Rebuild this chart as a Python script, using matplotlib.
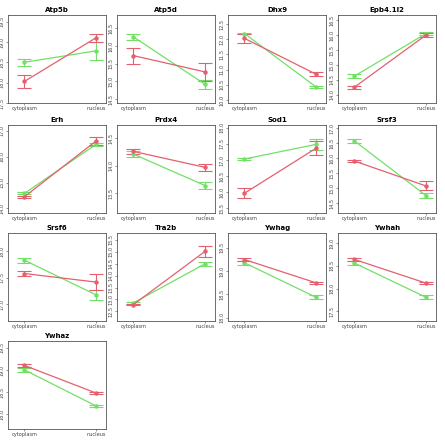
import numpy as np
import matplotlib
matplotlib.use("Agg")
import matplotlib.pyplot as plt

# Gene panels, values
genes = ["Atp5b", "Atp5d", "Dhx9", "Epb4.1l2", "Erh", "Prdx4", "Sod1",
         "Srsf3", "Srsf6", "Tra2b", "Ywhag", "Ywhah", "Ywhaz"]
fractions = ["cytoplasm", "nucleus"]

# red series: [cytoplasm, nucleus]
red_mean = [[18.03, 19.10], [15.73, 15.27], [12.03, 10.85], [14.26, 16.00],
            [14.45, 16.61], [14.26, 13.97], [15.97, 17.36], [15.91, 15.08],
            [17.58, 17.42], [12.79, 15.01], [19.25, 18.75], [18.64, 18.12],
            [19.10, 18.48]]
red_err = [[0.15, 0.10], [0.23, 0.25], [0.15, 0.06], [0.05, 0.08],
           [0.04, 0.15], [0.04, 0.06], [0.15, 0.22], [0.04, 0.15],
           [0.04, 0.15], [0.04, 0.22], [0.03, 0.02], [0.03, 0.02],
           [0.04, 0.03]]

# green series: [cytoplasm, nucleus]
green_mean = [[18.50, 18.78], [16.26, 14.92], [12.19, 10.43], [14.63, 16.05],
              [14.58, 16.48], [14.21, 13.64], [17.03, 17.48], [16.58, 14.76],
              [17.83, 17.18], [12.86, 14.49], [19.18, 18.44], [18.56, 17.81],
              [19.00, 18.19]]
green_err = [[0.08, 0.22], [0.09, 0.12], [0.03, 0.03], [0.06, 0.05],
             [0.04, 0.05], [0.05, 0.07], [0.04, 0.18], [0.08, 0.07],
             [0.05, 0.10], [0.04, 0.07], [0.04, 0.04], [0.04, 0.04],
             [0.05, 0.02]]

# axis ranges and tick steps per panel
ylims = [(17.5, 19.66), (14.39, 16.88), (9.9, 12.8), (13.73, 16.67),
         (13.82, 17.23), (13.14, 14.74), (15.36, 18.08), (14.18, 17.11),
         (16.69, 18.34), (12.1, 15.78), (17.93, 19.82), (17.29, 19.22),
         (17.67, 19.65)]
ysteps = [0.5, 0.5, 0.5, 0.5, 1.0, 0.5, 0.5, 0.5, 0.5, 0.5, 0.5, 0.5, 0.5]

RED = "#E4606F"
GREEN = "#72E066"

W = H = 445
fig = plt.figure(figsize=(W / 100, H / 100), dpi=100)
fig.patch.set_facecolor("white")

col_left = [8, 117, 228, 338]
row_top = [15, 125, 233, 341]
bw, bh = 98, 88

x = np.array([1, 2])
for i, g in enumerate(genes):
    r, c = divmod(i, 4)
    ax = fig.add_axes([col_left[c] / W, 1 - (row_top[r] + bh) / H, bw / W, bh / H])

    for mean, err, col in [(green_mean[i], green_err[i], GREEN),
                           (red_mean[i], red_err[i], RED)]:
        ax.errorbar(x, mean, yerr=err, color=col, lw=0.9, elinewidth=0.8,
                    capsize=5, capthick=0.8, marker="o", ms=2.2, mec=col, mfc=col)

    ax.set_xlim(0.77, 2.14)
    ax.set_ylim(*ylims[i])
    ax.set_xticks(x)
    ax.set_xticklabels(fractions)
    ax.yaxis.set_major_locator(matplotlib.ticker.MultipleLocator(ysteps[i]))
    ax.yaxis.set_major_formatter(matplotlib.ticker.FormatStrFormatter("%.1f"))
    ax.tick_params(axis="both", labelsize=3.6, length=1.5, width=0.4,
                   pad=0.8, colors="#444444")
    for lab in ax.get_yticklabels():
        lab.set_rotation(90)
        lab.set_va("center")
    for sp in ax.spines.values():
        sp.set_linewidth(0.6)
        sp.set_color("#555555")
    ax.set_title(g, fontsize=5, fontweight="bold", pad=2.5)

fig.savefig("out.png", dpi=100)
